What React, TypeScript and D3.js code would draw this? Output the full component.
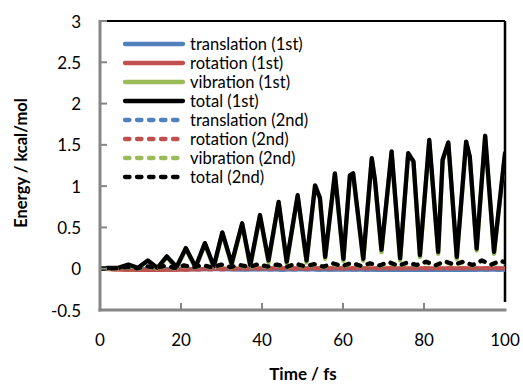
import React from "react";
import * as d3 from "d3";

// ---- Data ----
const time1 = [0, 2, 4.5, 7, 9.3, 11.8, 14.2, 16.5, 18.9, 21.2, 23.6, 25.9, 28.1, 30.2, 32.5, 35.1, 37.1, 39.5, 41.6, 44.1, 46.1, 48.8, 51, 53.1, 54.3, 55.6, 58, 60.1, 61.7, 62.5, 65, 67.1, 67.9, 69.5, 72, 74.1, 76.1, 77.4, 79, 81.3, 83.5, 84.6, 86, 88.1, 90.4, 91.3, 93, 95.1, 97.3, 100];
const total1 = [0, 0.01, 0.01, 0.05, 0.01, 0.1, 0.01, 0.15, 0.02, 0.25, 0.02, 0.31, 0.03, 0.44, 0.065, 0.55, 0.045, 0.65, 0.1, 0.81, 0.085, 0.89, 0.1, 1.01, 0.86, 0.145, 1.155, 0.12, 1.13, 1.155, 0.12, 1.34, 1.07, 0.23, 1.42, 0.125, 1.4, 1.3, 0.165, 1.56, 0.205, 1.32, 1.53, 0.145, 1.54, 1.36, 0.245, 1.61, 0.205, 1.4];
const vibration1 = [0, 0.005, 0.005, 0.045, 0.0, 0.095, 0.0, 0.14, 0.005, 0.24, 0.005, 0.3, 0.01, 0.43, 0.04, 0.54, 0.02, 0.64, 0.075, 0.8, 0.06, 0.88, 0.075, 1.0, 0.85, 0.12, 1.145, 0.095, 1.12, 1.145, 0.095, 1.33, 1.06, 0.2, 1.41, 0.1, 1.39, 1.29, 0.14, 1.55, 0.18, 1.31, 1.52, 0.12, 1.53, 1.35, 0.22, 1.6, 0.18, 1.39];

const time2 = [0, 2.3, 4.6, 6.9, 9.2, 11.5, 13.8, 16.1, 18.4, 20.7, 23, 25.3, 27.6, 29.9, 32.2, 34.5, 36.8, 39.1, 41.4, 43.7, 46, 48.3, 50.6, 52.9, 55.2, 57.5, 59.8, 62.1, 64.4, 66.7, 69, 71.3, 73.6, 75.9, 78.2, 80.5, 82.8, 85.1, 87.4, 89.7, 92, 94.3, 96.6, 98.9, 100];
const total2 = [0, 0.0, 0.01, 0.02, 0.005, 0.03, 0.01, 0.035, 0.01, 0.04, 0.015, 0.045, 0.015, 0.05, 0.02, 0.045, 0.02, 0.055, 0.025, 0.05, 0.02, 0.06, 0.03, 0.055, 0.025, 0.065, 0.03, 0.07, 0.035, 0.065, 0.04, 0.08, 0.035, 0.075, 0.045, 0.085, 0.04, 0.09, 0.05, 0.085, 0.045, 0.1, 0.05, 0.095, 0.08];
const vibration2 = [0, 0.0, 0.005, 0.015, 0.0, 0.025, 0.005, 0.03, 0.005, 0.035, 0.01, 0.04, 0.01, 0.045, 0.015, 0.04, 0.015, 0.05, 0.02, 0.045, 0.015, 0.055, 0.025, 0.05, 0.02, 0.06, 0.025, 0.065, 0.03, 0.06, 0.035, 0.075, 0.03, 0.07, 0.04, 0.08, 0.035, 0.085, 0.045, 0.08, 0.04, 0.095, 0.045, 0.09, 0.075];

const timeR = [0, 5, 10, 15, 20, 25, 30, 35, 40, 45, 50, 55, 60, 65, 70, 75, 80, 85, 90, 95, 100];
const translation1 = [0, 0, -0.005, -0.005, -0.005, -0.005, -0.005, -0.01, -0.005, -0.01, -0.005, -0.01, -0.01, -0.01, -0.015, -0.01, -0.015, -0.01, -0.015, -0.01, -0.01];
const rotation1 = [0, -0.01, -0.015, -0.015, -0.01, -0.005, 0, 0, 0.005, 0.005, 0.005, 0.005, 0.005, 0.005, 0.005, 0.005, 0.005, 0.005, 0.005, 0.005, 0.005];
const translation2 = [0, 0, -0.005, -0.005, -0.005, -0.005, -0.005, -0.005, -0.005, -0.01, -0.005, -0.01, -0.005, -0.01, -0.01, -0.01, -0.01, -0.01, -0.01, -0.01, -0.01];
const rotation2 = [0, -0.01, -0.015, -0.015, -0.01, -0.005, -0.005, 0, 0, 0.005, 0, 0.005, 0.005, 0.005, 0.005, 0.005, 0.005, 0.005, 0.005, 0.005, 0.005];

const yTicks = [-0.5, 0, 0.5, 1, 1.5, 2, 2.5, 3];
const xTicks = [0, 20, 40, 60, 80, 100];

const seriesNames = [
  "translation (1st)",
  "rotation (1st)",
  "vibration (1st)",
  "total (1st)",
  "translation (2nd)",
  "rotation (2nd)",
  "vibration (2nd)",
  "total (2nd)",
];

const BLUE = "#4F81BD";
const RED = "#C0504D";
const GREEN = "#9BBB59";
const BLACK = "#000000";
const AXIS = "#868686";

const W = 523;
const H = 385;
const L = 100;
const R = 505;
const T = 21;
const B = 310;

const DASH = "4.5,7.5";
const LW = 4.3;

export default function App() {
  const x = d3.scaleLinear().domain([0, 100]).range([L, R]);
  const y = d3.scaleLinear().domain([-0.5, 3]).range([B, T]);
  const line = d3
    .line<[number, number]>()
    .x((d) => x(d[0]))
    .y((d) => y(d[1]));
  const pts = (t: number[], v: number[]) => t.map((tt, i) => [tt, v[i]] as [number, number]);

  const series = [
    { t: timeR, v: translation1, color: BLUE, dash: false },
    { t: timeR, v: rotation1, color: RED, dash: false },
    { t: time1, v: vibration1, color: GREEN, dash: false },
    { t: time1, v: total1, color: BLACK, dash: false },
    { t: timeR, v: translation2, color: BLUE, dash: true },
    { t: timeR, v: rotation2, color: RED, dash: true },
    { t: time2, v: vibration2, color: GREEN, dash: true },
    { t: time2, v: total2, color: BLACK, dash: true },
  ];

  const font = "Lato, 'Open Sans', sans-serif";

  return (
    <svg
      width={W}
      height={H}
      style={{ position: "absolute", left: 0, top: 0, background: "#fff" }}
      fontFamily={font}
    >
      <rect x={0} y={0} width={W} height={H} fill="#fff" />
      <defs>
        <clipPath id="plotclip">
          <rect x={L} y={T} width={R - L} height={B - T} />
        </clipPath>
      </defs>
      {/* plot border (top/right black) */}
      <line x1={L} x2={R} y1={T} y2={T} stroke={BLACK} strokeWidth={2} />
      <line x1={R} x2={R} y1={T} y2={B - 8} stroke={BLACK} strokeWidth={2.5} />

      {/* series */}
      <g clipPath="url(#plotclip)">
        {series.map((s, i) => (
          <path
            key={i}
            d={line(pts(s.t, s.v)) || ""}
            fill="none"
            stroke={s.color}
            strokeWidth={LW}
            strokeLinejoin="round"
            strokeLinecap="round"
            strokeDasharray={s.dash ? DASH : undefined}
          />
        ))}
      </g>

      {/* axes */}
      <line x1={L} x2={L} y1={T - 1} y2={B + 1.5} stroke={AXIS} strokeWidth={3} />
      <line x1={L - 1.5} x2={R + 1.5} y1={B} y2={B} stroke={AXIS} strokeWidth={3} />
      {yTicks.map((v) => (
        <g key={"y" + v}>
          <line x1={L} x2={L + 7} y1={y(v)} y2={y(v)} stroke={AXIS} strokeWidth={2} />
          <text x={81} y={y(v)} textAnchor="end" dominantBaseline="central" fontSize={17} fill="#000">
            {v}
          </text>
        </g>
      ))}
      {xTicks.map((v) => (
        <g key={"x" + v}>
          {v > 0 && v < 100 && (
            <line x1={x(v)} x2={x(v)} y1={B} y2={B - 7} stroke={AXIS} strokeWidth={2} />
          )}
          <text x={x(v)} y={346} textAnchor="middle" fontSize={17} fill="#000">
            {v}
          </text>
        </g>
      ))}

      {/* axis titles */}
      <text x={303} y={380} textAnchor="middle" fontSize={17} fontWeight="bold" fill="#000">
        Time / fs
      </text>
      <text
        transform={`translate(27, 163) rotate(-90)`}
        textAnchor="middle"
        fontSize={16.5}
        fontWeight="bold"
        fill="#000"
      >
        Energy / kcal/mol
      </text>

      {/* legend */}
      {series.map((s, i) => {
        const ly = 44 + i * 19;
        return (
          <g key={"lg" + i}>
            <line
              x1={125}
              x2={183}
              y1={ly}
              y2={ly}
              stroke={s.color}
              strokeWidth={LW}
              strokeLinecap="round"
              strokeDasharray={s.dash ? DASH : undefined}
            />
            <text x={190} y={ly} dominantBaseline="central" fontSize={16.5} fill="#000">
              {seriesNames[i]}
            </text>
          </g>
        );
      })}
    </svg>
  );
}
